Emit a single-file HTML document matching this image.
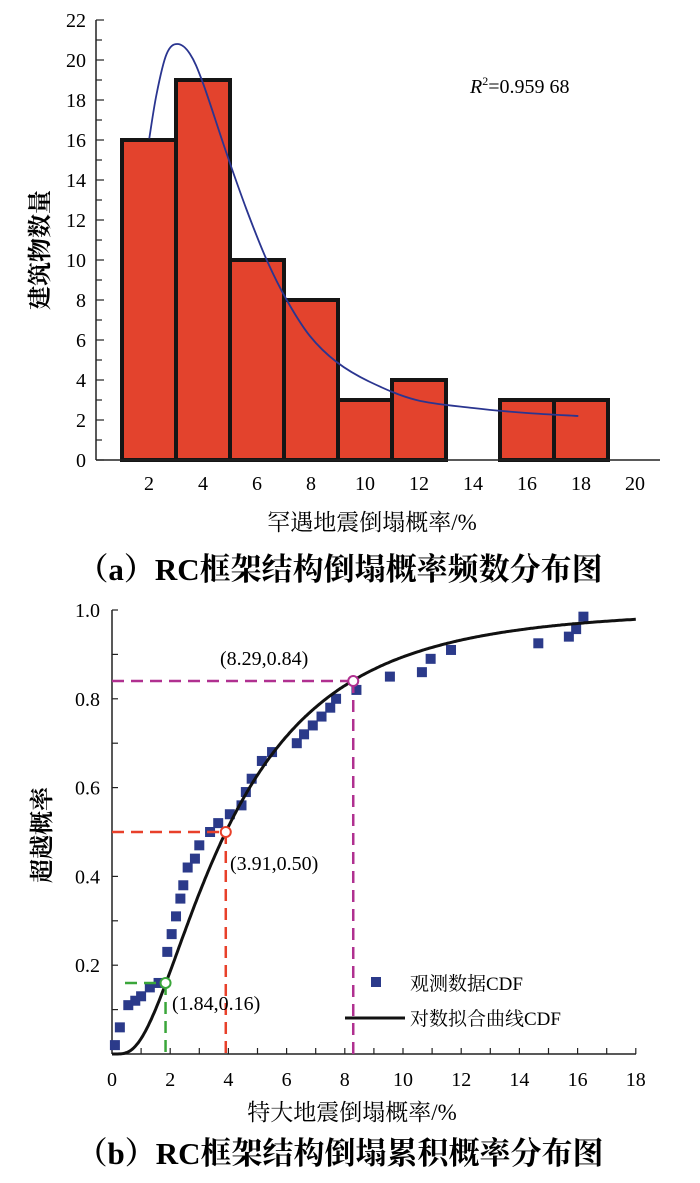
<!DOCTYPE html>
<html><head><meta charset="utf-8"><style>
body{margin:0;background:#fff;}
svg{display:block;font-family:"Liberation Serif","Noto Serif CJK SC",serif;}
</style></head><body>
<svg width="700" height="1183" viewBox="0 0 700 1183">
<g id="top"></g>
<g id="bot"></g>
</svg>
<script>
// ---- Top chart data ----
const binStarts=[1,3,5,7,9,11,15,17];
const binCounts=[16,19,10,8,3,4,3,3];
const binWidth=2;
const yTicksTop=[0,2,4,6,8,10,12,14,16,18,20,22];
const xTicksTop=[2,4,6,8,10,12,14,16,18,20];
const fitX=[2.01,2.28,2.65,3.05,3.52,4.01,4.88,5.62,6.36,7.1,7.96,8.95,10.19,11.9,14,16,17.9];
const fitY=[16.08,18.3,20.3,20.8,20.3,18.8,15.3,12.5,10,8,6.2,4.9,3.9,3.0,2.6,2.35,2.2];
// ---- Bottom chart data ----
const obsX=[0.1,0.27,0.56,0.8,1.0,1.3,1.6,1.9,2.05,2.2,2.35,2.45,2.6,2.85,3.0,3.37,3.65,4.05,4.45,4.6,4.8,5.15,5.5,6.35,6.6,6.9,7.2,7.5,7.7,8.4,9.55,10.65,10.95,11.65,14.65,15.7,15.95,16.2];
const obsY=[0.02,0.06,0.11,0.12,0.13,0.15,0.16,0.23,0.27,0.31,0.35,0.38,0.42,0.44,0.47,0.50,0.52,0.54,0.56,0.59,0.62,0.66,0.68,0.70,0.72,0.74,0.76,0.78,0.80,0.82,0.85,0.86,0.89,0.91,0.925,0.94,0.957,0.985];
const fitMedian=[3.91];
const fitSigma=[0.751];
const markX=[1.84,3.91,8.29];
const markY=[0.16,0.50,0.84];
const markLabels=["(1.84,0.16)","(3.91,0.50)","(8.29,0.84)"];
const markColors=["#3aa63a","#e8402a","#b03090"];
const yTicksBot=[0.2,0.4,0.6,0.8,1.0];
const xTicksBot=[0,2,4,6,8,10,12,14,16,18];

const NS="http://www.w3.org/2000/svg";
function mk(p,t,a,txt){const e=document.createElementNS(NS,t);for(const k in a)e.setAttribute(k,a[k]);if(txt!=null)e.textContent=txt;p.appendChild(e);return e;}

// Top
const T=document.getElementById('top');
const tx=v=>95+v*27, ty=v=>460-v*20;
binStarts.forEach((s,i)=>{
 const r=mk(T,'rect',{x:tx(s),y:ty(binCounts[i]),width:binWidth*27,height:ty(0)-ty(binCounts[i]),fill:'#e3432d',stroke:'#151515','stroke-width':4});
 
 
});
const pts=fitX.map((x,i)=>[tx(x),ty(fitY[i])]);
let d='M'+pts[0][0].toFixed(1)+','+pts[0][1].toFixed(1);
for(let i=0;i<pts.length-1;i++){
 const p0=pts[Math.max(0,i-1)],p1=pts[i],p2=pts[i+1],p3=pts[Math.min(pts.length-1,i+2)];
 const c1=[p1[0]+(p2[0]-p0[0])/6,p1[1]+(p2[1]-p0[1])/6],c2=[p2[0]-(p3[0]-p1[0])/6,p2[1]-(p3[1]-p1[1])/6];
 d+='C'+c1.map(v=>v.toFixed(1))+' '+c2.map(v=>v.toFixed(1))+' '+p2.map(v=>v.toFixed(1));
}
const fc=mk(T,'path',{d:d,fill:'none',stroke:'#2a3590','stroke-width':1.8});


mk(T,'line',{x1:96,y1:20,x2:96,y2:460,stroke:'#222','stroke-width':1.5});
mk(T,'line',{x1:96,y1:460,x2:660,y2:460,stroke:'#222','stroke-width':1.5});
for(let v=0;v<=22;v++){mk(T,'line',{x1:96,x2:v%2?102:104,y1:ty(v),y2:ty(v),stroke:'#222','stroke-width':1.2});}
yTicksTop.forEach(v=>{const t=mk(T,'text',{x:86,y:ty(v)+7,'text-anchor':'end','font-size':20},String(v));
 });
xTicksTop.forEach(v=>{const t=mk(T,'text',{x:tx(v),y:490,'text-anchor':'middle','font-size':20},String(v));
 });
let r2=mk(T,'text',{x:470,y:93,'font-size':20});r2.innerHTML='<tspan font-style="italic">R</tspan><tspan font-size="12" dy="-8">2</tspan><tspan dy="8">=0.959 68</tspan>';

let yl=mk(T,'text',{x:0,y:0,transform:'translate(48,250) rotate(-90)','text-anchor':'middle','font-size':24,'font-weight':'bold'},'建筑物数量');

let xl=mk(T,'text',{x:372,y:530,'text-anchor':'middle','font-size':23},'罕遇地震倒塌概率/%');

let ca=mk(T,'text',{x:340,y:580,'text-anchor':'middle','font-size':31,'font-weight':'bold'},'（a）RC框架结构倒塌概率频数分布图');


// Bottom
const B=document.getElementById('bot');
const bx=v=>112+v*29.1, by=v=>1054-v*444;
function erf(x){const s=Math.sign(x);x=Math.abs(x);const t=1/(1+0.3275911*x);const y=1-(((((1.061405429*t-1.453152027)*t)+1.421413741)*t-0.284496736)*t+0.254829592)*t*Math.exp(-x*x);return s*y;}
const cdf=x=>x<=0?0:0.5*(1+erf(Math.log(x/fitMedian[0])/(fitSigma[0]*Math.SQRT2)));
mk(B,'line',{x1:112,y1:610,x2:112,y2:1054,stroke:'#222','stroke-width':1.5});
mk(B,'line',{x1:112,y1:1054,x2:636,y2:1054,stroke:'#222','stroke-width':1.5});
for(let v=1;v<=10;v++){mk(B,'line',{x1:112,x2:118,y1:by(v/10),y2:by(v/10),stroke:'#222','stroke-width':1.2});}
for(let v=1;v<=18;v++){mk(B,'line',{x1:bx(v),x2:bx(v),y1:1054,y2:1048,stroke:'#222','stroke-width':1.2});}
yTicksBot.forEach(v=>{const t=mk(B,'text',{x:100,y:by(v)+7,'text-anchor':'end','font-size':20},v.toFixed(1));
 });
xTicksBot.forEach(v=>{const t=mk(B,'text',{x:bx(v),y:1086,'text-anchor':'middle','font-size':20},String(v));
 });
obsX.forEach((x,i)=>{const s=mk(B,'rect',{x:bx(x)-5,y:by(obsY[i])-5,width:10,height:10,fill:'#2b3a8a'});
 });
let p='';for(let i=0;i<=360;i++){const x=i*0.05;p+=(i?'L':'M')+bx(x).toFixed(1)+','+by(cdf(x)).toFixed(1);}
const cc=mk(B,'path',{d:p,fill:'none',stroke:'#111','stroke-width':3});

markX.forEach((x,i)=>{const c=markColors[i];
 mk(B,'line',{x1:i==0?125:112,y1:by(markY[i]),x2:bx(x),y2:by(markY[i]),stroke:c,'stroke-width':2.5,'stroke-dasharray':'12,7'});
 mk(B,'line',{x1:bx(x),y1:by(markY[i]),x2:bx(x),y2:1054,stroke:c,'stroke-width':2.5,'stroke-dasharray':'12,7'});
 const m=mk(B,'circle',{cx:bx(x),cy:by(markY[i]),r:5,fill:'#fff',stroke:c,'stroke-width':2});
 
});
const lp=[[172,1010],[230,870],[220,665]];
markLabels.forEach((l,i)=>{const t=mk(B,'text',{x:lp[i][0],y:lp[i][1],'font-size':20},l);
 });
let lg=mk(B,'rect',{x:371,y:977,width:10,height:10,fill:'#2b3a8a'});

mk(B,'text',{x:410,y:990,'font-size':19},'观测数据CDF');
mk(B,'line',{x1:345,y1:1018,x2:405,y2:1018,stroke:'#111','stroke-width':3});
mk(B,'text',{x:410,y:1025,'font-size':19},'对数拟合曲线CDF');
let yl2=mk(B,'text',{x:0,y:0,transform:'translate(50,835) rotate(-90)','text-anchor':'middle','font-size':24,'font-weight':'bold'},'超越概率');

let xl2=mk(B,'text',{x:352,y:1120,'text-anchor':'middle','font-size':23},'特大地震倒塌概率/%');

let cb=mk(B,'text',{x:340,y:1164,'text-anchor':'middle','font-size':31,'font-weight':'bold'},'（b）RC框架结构倒塌累积概率分布图');

</script>
</body></html>
